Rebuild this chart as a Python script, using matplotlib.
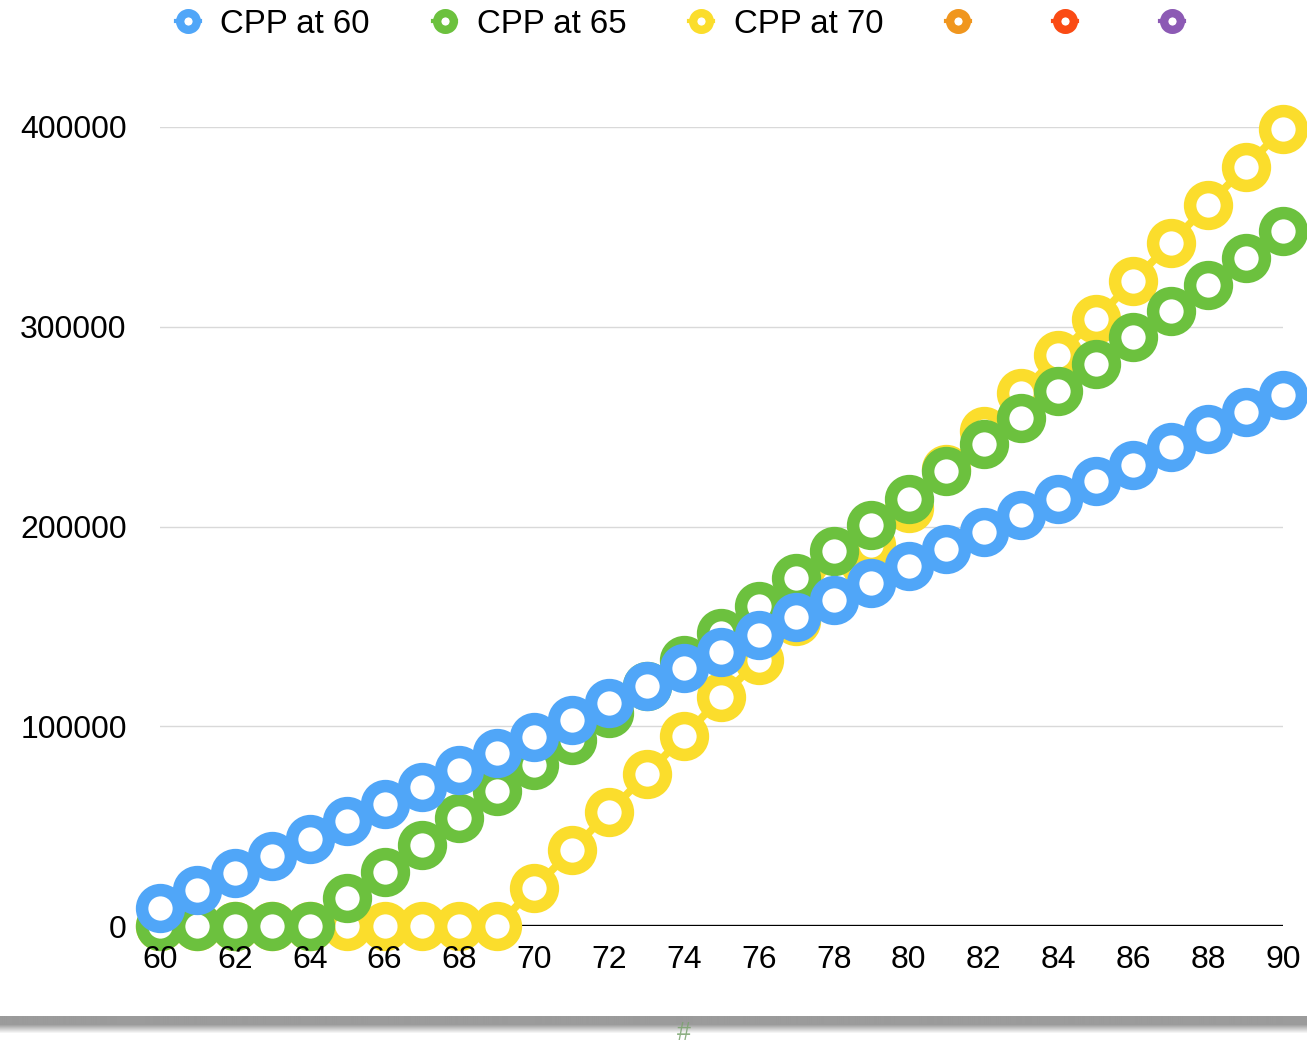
import numpy as np
import matplotlib
matplotlib.use("Agg")
import matplotlib.pyplot as plt
from matplotlib.lines import Line2D

plt.rcParams['font.family'] = ['Liberation Sans', 'DejaVu Sans']

ages = list(range(60, 91))

# cumulative CPP received, by start age
cpp_at_60 = [9000, 18000, 26500, 35000, 43500, 52500, 61000, 69600, 78000, 86600,
             94600, 103000, 111600, 120000, 129000, 137000, 145700, 154700, 163000, 171700,
             180000, 188700, 197000, 205700, 214000, 222800, 231000, 239800, 248800, 257300,
             265800]
cpp_at_65 = [0, 0, 0, 0, 0, 14000, 27000, 40500, 54000, 67600,
             80600, 93100, 106600, 120000, 133000, 146700, 160000, 174000, 187700, 200700,
             214000, 227800, 241300, 254300, 267800, 281300, 294900, 307900, 320900, 334400,
             348000]
cpp_at_70 = [0, 0, 0, 0, 0, 0, 0, 0, 0, 0,
             19000, 38000, 57000, 76100, 95100, 114600, 133200, 152700, 171700, 190700,
             209300, 228800, 247800, 266800, 285900, 303900, 322900, 341900, 361000, 380000,
             399000]

series_labels = ["CPP at 60", "CPP at 65", "CPP at 70", "", "", ""]
series_colors = ["#50a6f8", "#6cc13e", "#fbdd2c", "#f0961e", "#fa4b14", "#8c5ab4"]

x_ticks = list(range(60, 91, 2))
y_ticks = [0, 100000, 200000, 300000, 400000]

fig = plt.figure(figsize=(13.07, 10.45), dpi=100)
ax = fig.add_axes([160/1307, 1 - 926/1045, 1123/1307, 799/1045])

for y in y_ticks[1:]:
  ax.axhline(y, color='#d9d9d9', linewidth=1.0, zorder=0.5)
ax.axhline(0, color='#000000', linewidth=2.4, zorder=1.0)

# drawn back to front: 70, 65, 60 (all below the tick labels)
for values, color, z in [(cpp_at_70, series_colors[2], 1.1), (cpp_at_65, series_colors[1], 1.2), (cpp_at_60, series_colors[0], 1.3)]:
  ax.plot(ages, values, color=color, linewidth=5.5, marker='o', markersize=26.5,
          markerfacecolor='white', markeredgecolor=color, markeredgewidth=9,
          clip_on=False, zorder=z)

ax.set_xlim(60, 90)
ax.set_ylim(0, 400000)
ax.set_xticks(x_ticks)
ax.set_yticks(y_ticks)
ax.set_yticklabels([str(v) for v in y_ticks])
ax.tick_params(axis='both', length=0, labelsize=23)
ax.tick_params(axis='y', pad=24)
ax.tick_params(axis='x', pad=14)
for spine in ax.spines.values():
  spine.set_visible(False)

handles = [Line2D([0], [0], color=c, linewidth=3, marker='o', markersize=12,
                  markerfacecolor='white', markeredgecolor=c, markeredgewidth=6)
           for c in series_colors]
fig.legend(handles, series_labels, loc='upper left', bbox_to_anchor=(176/1307, 1 - 9/1045),
           ncol=6, frameon=False, fontsize=23.8, borderpad=0, borderaxespad=0,
           handlelength=0.72, handletextpad=0.62, columnspacing=1.9)

# grey page footer band
band = fig.add_axes([0, 1 - 1034/1045, 1, 18/1045])
grad = np.concatenate([np.full(8, 155.0), np.linspace(155, 255, 10)])
band.imshow(np.tile(grad[:, None], (1, 10)), cmap='gray', vmin=0, vmax=255,
            aspect='auto', interpolation='bilinear')
band.axis('off')
fig.text(684/1307, 1 - 1033/1045, '#', color='#7aa36e', alpha=0.85, fontsize=18,
         ha='center', va='center')

fig.savefig('out.png', dpi=100)
